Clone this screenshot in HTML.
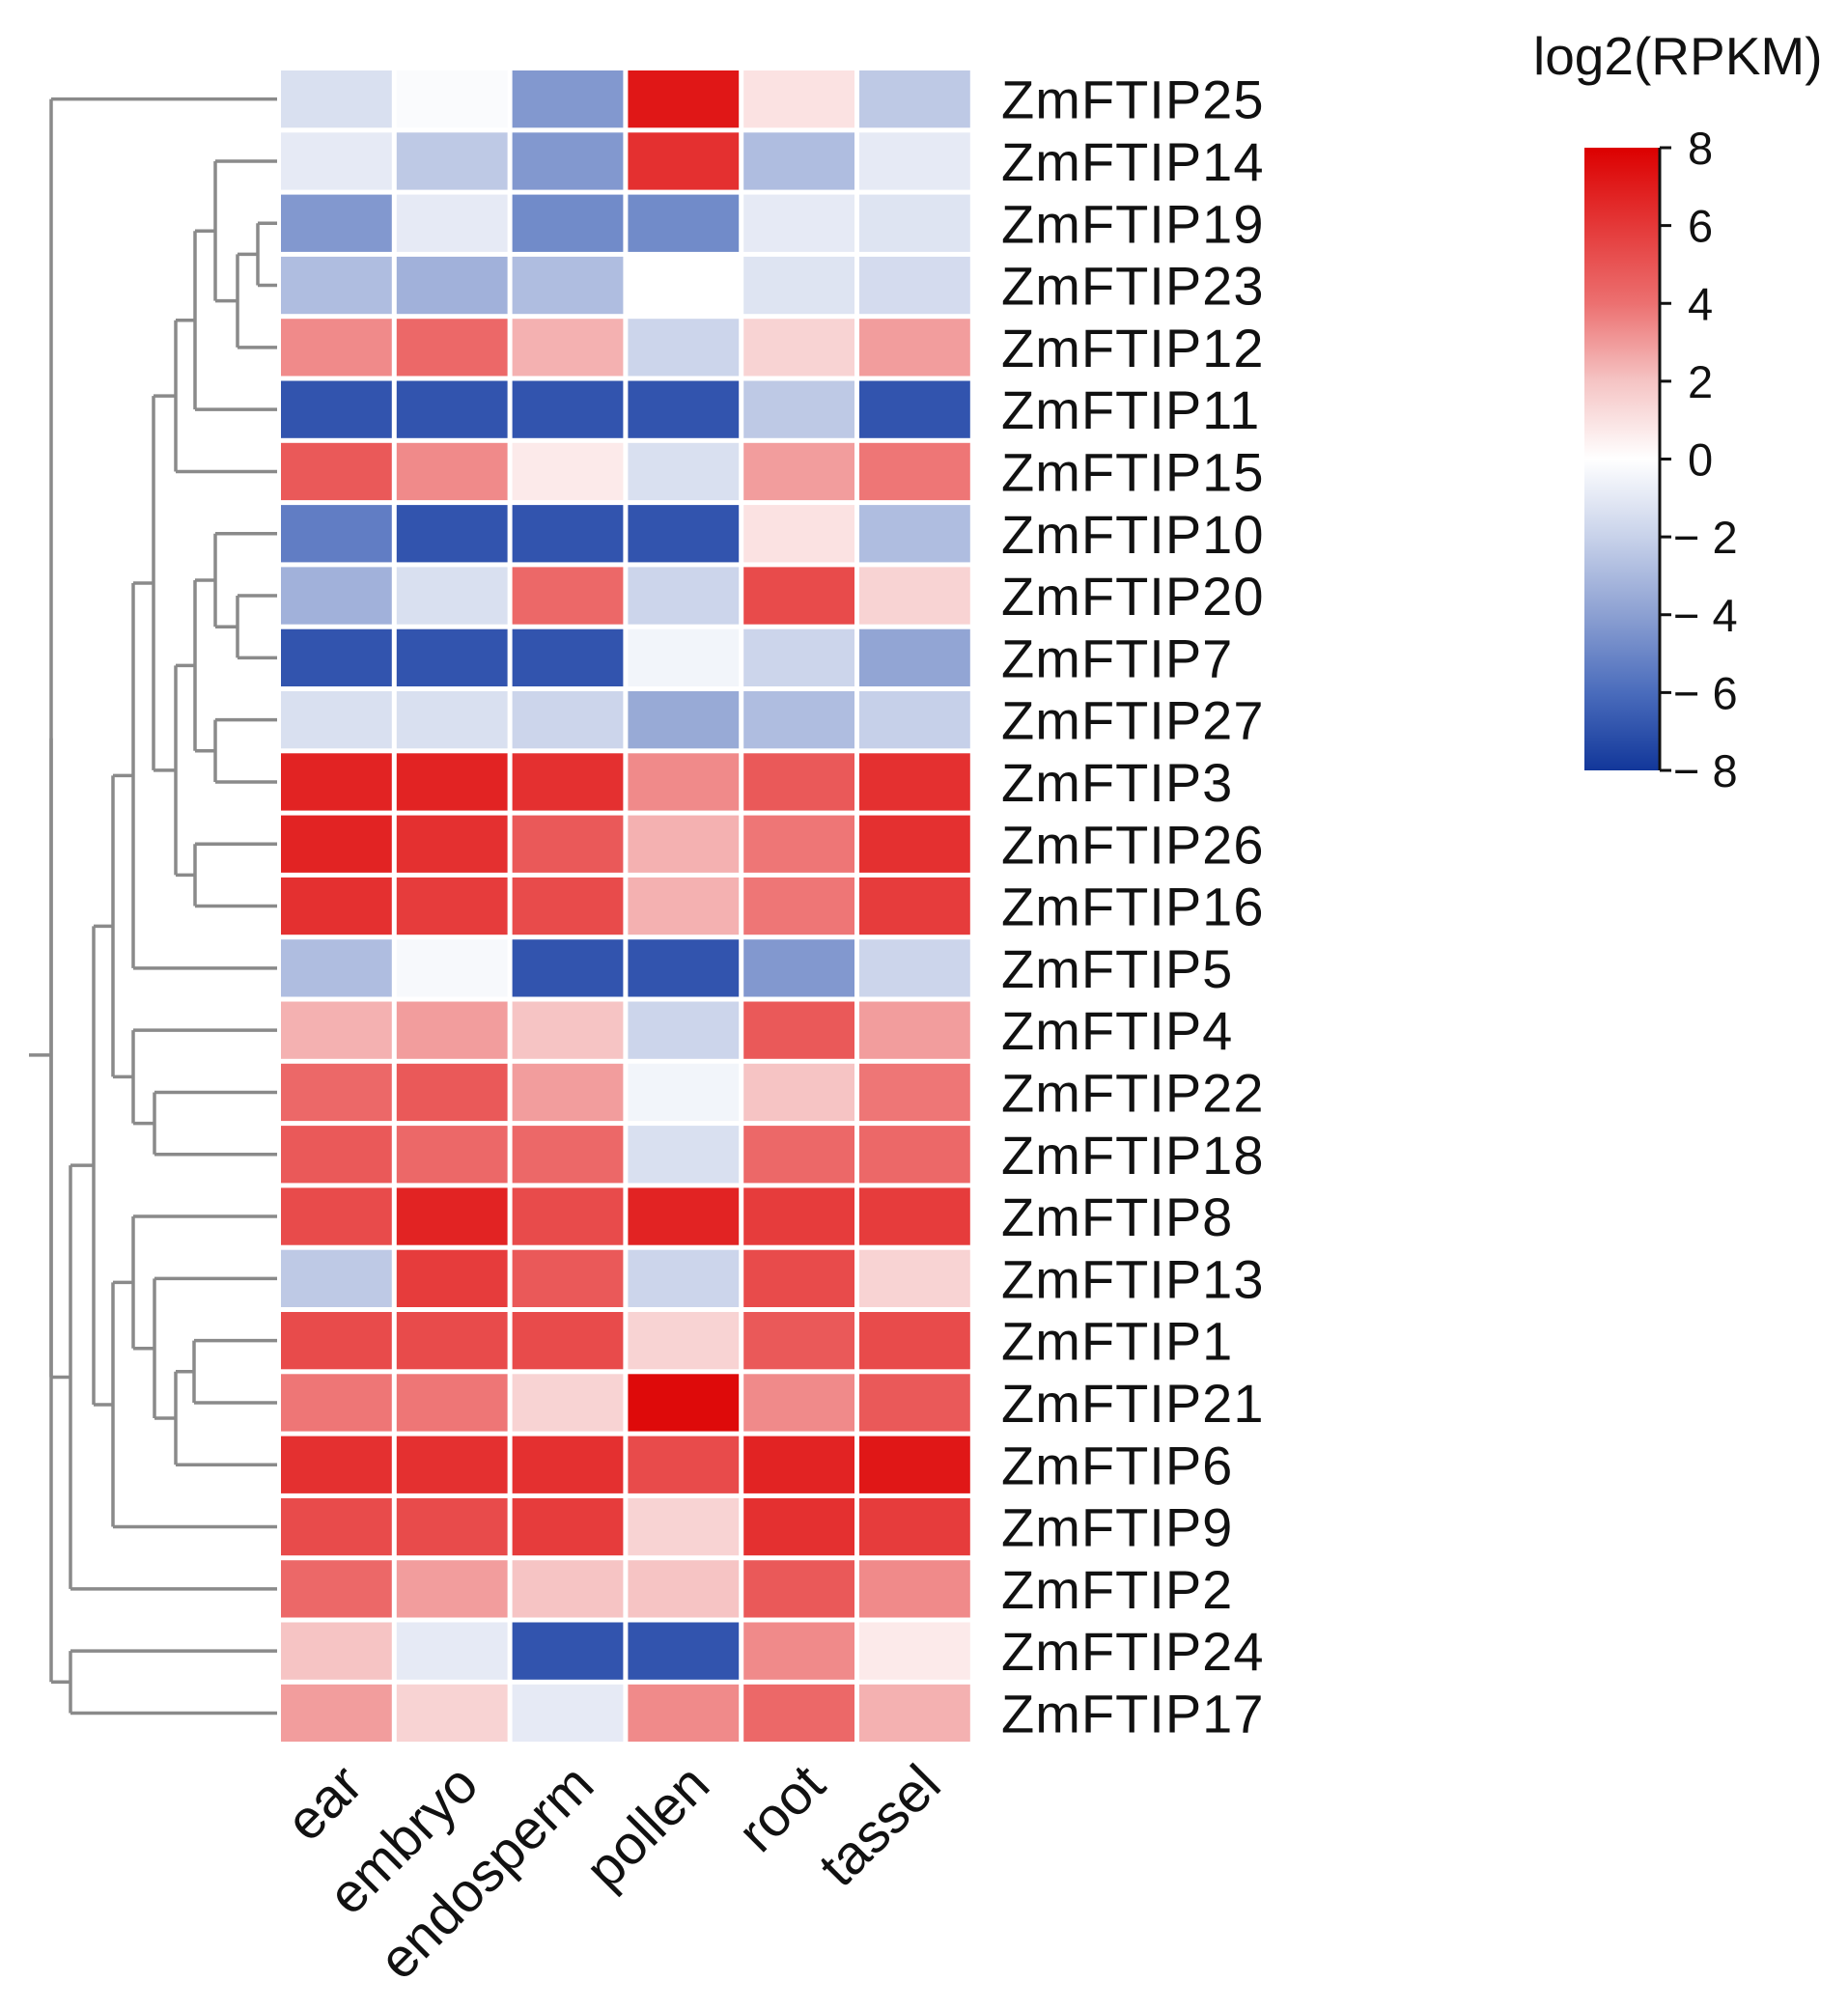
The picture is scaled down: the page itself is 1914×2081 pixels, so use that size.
<!DOCTYPE html>
<html><head><meta charset="utf-8"><style>
html,body{margin:0;padding:0;background:#fff;}
svg{display:block;font-family:"Liberation Sans",Arial,sans-serif;}
</style></head><body>
<svg id="chart" width="1914" height="2081" viewBox="0 0 1914 2081" xmlns="http://www.w3.org/2000/svg">
<defs>
<linearGradient id="cbar" x1="0" y1="0" x2="0" y2="1">
<stop offset="0" stop-color="#dc0000"/>
<stop offset="0.25" stop-color="#ec7070"/>
<stop offset="0.375" stop-color="#f5c4c4"/>
<stop offset="0.5" stop-color="#ffffff"/>
<stop offset="0.625" stop-color="#c8d2ea"/>
<stop offset="0.75" stop-color="#8ca0d2"/>
<stop offset="0.875" stop-color="#4a6cbc"/>
<stop offset="1" stop-color="#12379a"/>
</linearGradient>
</defs>
<g id="dendro"></g>
<g id="cells"></g>
<g id="rowlabels"></g>
<g id="collabels"></g>
<g id="legend">
<text x="1588" y="77" font-size="55" fill="#111">log2(RPKM)</text>
<rect x="1641" y="153" width="78" height="645" fill="url(#cbar)"/>
<line x1="1719" y1="153" x2="1719" y2="798" stroke="#111" stroke-width="3"/>
</g>
</svg>
<script>
const rows = ["ZmFTIP25","ZmFTIP14","ZmFTIP19","ZmFTIP23","ZmFTIP12","ZmFTIP11","ZmFTIP15","ZmFTIP10","ZmFTIP20","ZmFTIP7","ZmFTIP27","ZmFTIP3","ZmFTIP26","ZmFTIP16","ZmFTIP5","ZmFTIP4","ZmFTIP22","ZmFTIP18","ZmFTIP8","ZmFTIP13","ZmFTIP1","ZmFTIP21","ZmFTIP6","ZmFTIP9","ZmFTIP2","ZmFTIP24","ZmFTIP17"];
const cols = ["ear","embryo","endosperm","pollen","root","tassel"];
const ear       = [-1.5,-1,-4.5,-3,3.5,-7.5,5,-5.5,-3.5,-7.5,-1.5,7,7,6.5,-3,2.5,4.5,5,5.5,-2.5,5.5,4,6.5,5.5,4.5,2,3];
const embryo    = [-0.2,-2.5,-1,-3.5,4.5,-7.5,3.5,-7.5,-1.5,-7.5,-1.5,7,6.5,6,-0.3,3,5,4.5,7,6,5.5,4,6.5,5.5,3,-1,1.5];
const endosperm = [-4.5,-4.5,-5,-3,2.5,-7.5,0.7,-7.5,4.5,-7.5,-2,6.5,5,5.5,-7.5,2,3,4.5,5.5,5,5.5,1.5,6.5,6,2,-7.5,-1];
const pollen    = [7.5,6.5,-5,0,-2,-7.5,-1.5,-7.5,-2,-0.5,-3.8,3.5,2.5,2.5,-7.5,-2,-0.5,-1.5,7,-2,1.5,8,5.5,1.5,2,-7.5,3.5];
const root      = [1,-3,-1,-1.3,1.5,-2.5,3,1,5.5,-2,-3,5,4,4,-4.5,5,2,4.5,6,5.5,5,3.5,7,6.5,5,3.5,4.5];
const tassel    = [-2.5,-1,-1.3,-1.7,3,-7.5,4,-3,1.5,-4,-2.2,6.5,6.5,6,-2,3,4,4.5,6,1.5,5.5,5,7.5,6,3.5,0.7,2.5];
const series = [ear,embryo,endosperm,pollen,root,tassel];
const ticks = [8,6,4,2,0,-2,-4,-6,-8];

const NS="http://www.w3.org/2000/svg";
const X0=291, CW=119.8, Y0=73, RH=64.3, GAP=5;
const VMIN=-8, VMAX=8, CB_TOP=153, CB_BOT=798;
function xCol(j){return X0+j*CW;}
function yRow(i){return Y0+i*RH;}
function yCenter(i){return yRow(i)+(RH-GAP)/2;}
function cbY(v){return CB_TOP+(VMAX-v)/(VMAX-VMIN)*(CB_BOT-CB_TOP);}
const stops=[[8,[222,10,10]],[6,[230,60,60]],[4,[238,118,118]],[2,[246,196,196]],[0,[255,255,255]],[-2,[204,213,235]],[-4,[146,165,212]],[-6,[80,112,190]],[-8,[40,75,168]]];
function color(v){
  v=Math.max(-8,Math.min(8,v));
  for(let k=0;k<stops.length-1;k++){
    const a=stops[k][0],ca=stops[k][1],b=stops[k+1][0],cb=stops[k+1][1];
    if(v<=a&&v>=b){const t=(a-v)/(a-b);
      const c=ca.map((x,i)=>Math.round(x+(cb[i]-x)*t));
      return "rgb("+c[0]+","+c[1]+","+c[2]+")";}
  }
  return "#fff";
}
function mk(tag,attrs,parent){const e=document.createElementNS(NS,tag);for(const k in attrs)e.setAttribute(k,attrs[k]);parent.appendChild(e);return e;}
const gC=document.getElementById('cells');
series.forEach((s,j)=>{s.forEach((v,i)=>{
  const r=mk('rect',{x:xCol(j),y:yRow(i),width:CW-GAP,height:RH-GAP,fill:color(v)},gC);
  
  
});});
const gR=document.getElementById('rowlabels');
rows.forEach((n,i)=>{
  const t=mk('text',{x:1037,y:yCenter(i)+20,'font-size':56,fill:'#111','letter-spacing':'1'},gR);
  t.textContent=n;
  
  
});
const gCl=document.getElementById('collabels');
cols.forEach((n,j)=>{
  const ax=xCol(j)+(CW-GAP)/2+30, ay=1852;
  const t=mk('text',{x:ax,y:ay,'font-size':57,fill:'#111','text-anchor':'end',transform:'rotate(-45 '+ax+' '+ay+')'},gCl);
  t.textContent=n;
  
  
});
const gL=document.getElementById('legend');
ticks.forEach(v=>{
  const y=cbY(v);
  const l=mk('line',{x1:1719,y1:y,x2:1731,y2:y,stroke:'#111','stroke-width':3},gL);
  
  
  const t=mk('text',{x:v<0?1733:1748,y:y+17,'font-size':47,fill:'#111'},gL);
  t.textContent=v<0?('\u2212 '+Math.abs(v)):String(v);
  
  
});
const LEAF_X=287;
function N(a,b,h){return {a:a,b:b,h:h};}
const t1 = N(1, N(N(2,3,20),4,41), 64);
const t2 = N(N(t1,5,85),6,105);
const t3 = N(N(N(7,N(8,9,41),64),N(10,11,64),85),N(12,13,85),105);
const t4 = N(N(t2,t3,128),14,149);
const t5 = N(15,N(16,17,127),149);
const t6 = N(t4,t5,170);
const t7 = N(N(18,N(19,N(N(20,21,86),22,105),127),149),23,170);
const t8 = N(N(t6,t7,190),24,214);
const treeRoot = N(N(0,t8,234),N(25,26,214),234);
const gD=document.getElementById('dendro');
function line(x1,y1,x2,y2){
  const l=mk('line',{x1:x1,y1:y1,x2:x2,y2:y2,stroke:'#8a8a8a','stroke-width':3.5},gD);
  
  
}
function draw(n){
  if(typeof n==='number') return {y:yCenter(n),x:LEAF_X};
  const A=draw(n.a),B=draw(n.b);const x=LEAF_X-n.h;
  line(x,A.y,A.x,A.y);line(x,B.y,B.x,B.y);line(x,A.y,x,B.y);
  return {y:(A.y+B.y)/2,x:x};
}
draw(treeRoot);
const stubY=yCenter(15.4);
line(LEAF_X-234-23,stubY,LEAF_X-234,stubY);
</script>
</body></html>
